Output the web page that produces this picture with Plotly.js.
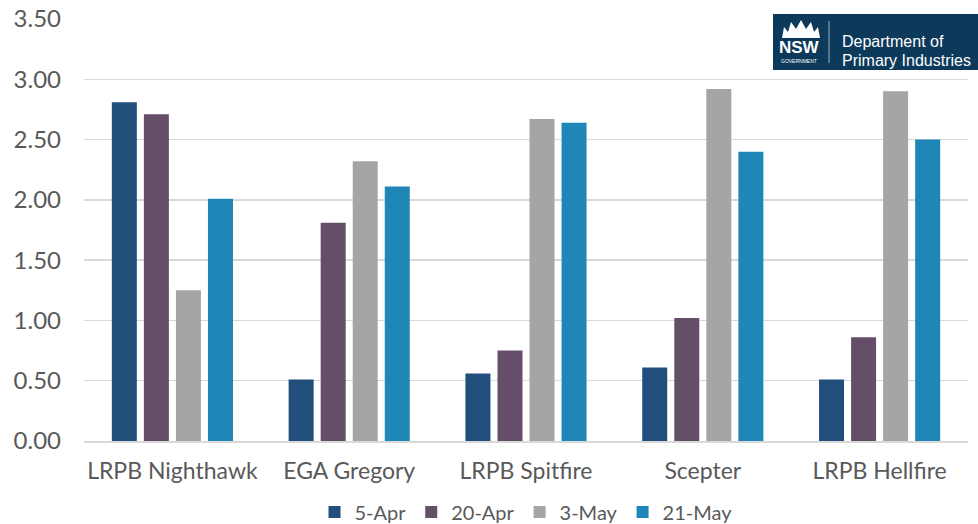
<!DOCTYPE html>
<html>
<head>
<meta charset="utf-8">
<script src="https://cdn.plot.ly/plotly-3.0.1.min.js"></script>
<style>html,body{margin:0;padding:0;background:#fff;}#chart{width:978px;height:524px;}</style>
</head>
<body>
<div id="chart"></div>
<script>
const categories = ["LRPB Nighthawk", "EGA Gregory", "LRPB Spitfire", "Scepter", "LRPB Hellfire"];
const seriesNames = ["5-Apr", "20-Apr", "3-May", "21-May"];
const apr5  = [2.81, 0.51, 0.56, 0.61, 0.51];
const apr20 = [2.71, 1.81, 0.75, 1.02, 0.86];
const may3  = [1.25, 2.32, 2.67, 2.92, 2.90];
const may21 = [2.01, 2.11, 2.64, 2.40, 2.50];
const yTicks = [0, 0.5, 1, 1.5, 2, 2.5, 3, 3.5];
const colors = ["#224E7C", "#654F68", "#A5A5A5", "#1F86B8"];

const seriesValues = [apr5, apr20, may3, may21];
const traces = seriesValues.map((vals, i) => ({
  type: "bar",
  name: seriesNames[i],
  x: categories,
  y: vals,
  marker: {color: colors[i], line: {width: 0}},
  hoverinfo: "x+y+name"
}));

const font = "Lato, 'Open Sans', sans-serif";
const layout = {
  width: 978, height: 524,
  margin: {l: 84, r: 10, t: 19, b: 82.5, pad: 0, autoexpand: false},
  paper_bgcolor: "#fff", plot_bgcolor: "#fff",
  barmode: "group",
  bargap: 0.275,
  bargroupgap: 0.22,
  font: {family: font, color: "#595959", size: 20},
  xaxis: {
    type: "category",
    showgrid: false,
    showline: true, linecolor: "#D9D9D9", linewidth: 1.5,
    ticks: "", tickfont: {size: 23, color: "#595959"},
    ticklabelstandoff: 9
  },
  yaxis: {
    range: [0, 3.5],
    tickvals: yTicks,
    ticktext: yTicks.map(v => v.toFixed(2)),
    showgrid: true, gridcolor: "#D9D9D9", gridwidth: 1.5,
    zeroline: false, showline: false,
    ticks: "", tickfont: {size: 24, color: "#595959"},
    ticklabelstandoff: 22
  },
  legend: {
    orientation: "h", x: 0.5, xanchor: "center", xref: "paper",
    yref: "container", y: (524 - 512) / 524, yanchor: "middle",
    font: {size: 20, color: "#595959"},
    itemwidth: 30, traceorder: "normal"
  },
  shapes: [
    {type: "rect", xref: "paper", yref: "paper", x0: (773-84)/884, x1: (978-84)/884,
     y0: (441.5-70)/422.5, y1: (441.5-14)/422.5, fillcolor: "#0D3A5B", line: {width: 0}, layer: "above"},
    {type: "line", xref: "paper", yref: "paper", x0: (829-84)/884, x1: (829-84)/884,
     y0: (441.5-63)/422.5, y1: (441.5-21)/422.5, line: {color: "rgba(255,255,255,0.6)", width: 1}, layer: "above"},
    {type: "path", xref: "paper", yref: "paper", layer: "above", fillcolor: "#ffffff", line: {width: 0},
     path: (function(){
       const px = x => (x-84)/884, py = y => (441.5-y)/422.5;
       const pts = [[782,38],[784,27],[788,32],[791,22],[796,29],[801,20],[806,29],[811,22],[814,32],[818,27],[820,38]];
       let d = "M" + px(pts[0][0]) + "," + py(pts[0][1]);
       for (let k = 1; k < pts.length; k++) d += " L" + px(pts[k][0]) + "," + py(pts[k][1]);
       return d + " Z";
     })()}
  ],
  annotations: [
    {xref: "paper", yref: "paper", x: (799-84)/884, y: (441.5-48)/422.5, text: "<b>NSW</b>", showarrow: false,
     font: {family: "Liberation Sans, Arial, sans-serif", size: 17, color: "#fff"}, xanchor: "center", yanchor: "middle"},
    {xref: "paper", yref: "paper", x: (799-84)/884, y: (441.5-61)/422.5, text: "GOVERNMENT", showarrow: false,
     font: {family: "Liberation Sans, Arial, sans-serif", size: 5, color: "#fff"}, xanchor: "center", yanchor: "middle"},
    {xref: "paper", yref: "paper", x: (841-84)/884, y: (441.5-33)/422.5, text: "Department of", showarrow: false,
     font: {family: "Liberation Sans, Arial, sans-serif", size: 16, color: "#fff"}, xanchor: "left", yanchor: "bottom",
     borderpad: 0},
    {xref: "paper", yref: "paper", x: (841-84)/884, y: (441.5-50)/422.5, text: "Primary Industries", showarrow: false,
     font: {family: "Liberation Sans, Arial, sans-serif", size: 16, color: "#fff"}, xanchor: "left", yanchor: "top",
     borderpad: 0}
  ]
};
layout.annotations[2].y = (441.5-51)/422.5;
layout.annotations[3].y = (441.5-51)/422.5;

Plotly.newPlot("chart", traces, layout, {displayModeBar: false, staticPlot: true});
</script>
</body>
</html>
